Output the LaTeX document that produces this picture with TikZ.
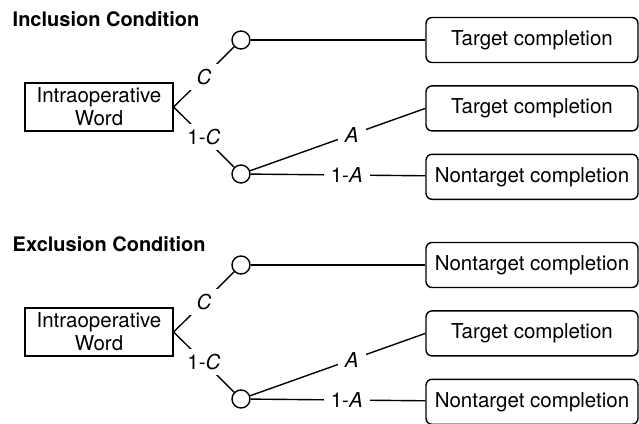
\documentclass[tikz,border=0pt]{standalone}
\usepackage{fontspec}
\setmainfont{TeX Gyre Heros}
\usetikzlibrary{positioning}

\tikzset{
  stim/.style={rectangle, draw=black, minimum width=148pt, minimum height=48pt, align=center, inner sep=0pt},
  outcome/.style={rectangle, rounded corners=6pt, draw=black, minimum width=212pt, minimum height=45pt, inner sep=0pt},
  chance/.style={circle, draw=black, minimum size=18pt, inner sep=0pt},
  prob/.style={fill=white, inner xsep=7pt, inner ysep=5pt},
  heading/.style={font=\fontsize{20}{23}\selectfont\bfseries, anchor=base west, inner sep=0pt},
}

\begin{document}
\begin{tikzpicture}[x=1pt, y=-1pt, line width=1.4pt, font=\fontsize{20.5}{23}\selectfont]
    \useasboundingbox (0,0) rectangle (639,423);

    % inclusion condition
    \node[heading] (inctitle) at (12,26) {Inclusion Condition};
    \node[stim] (incword) at (99,107) {Intraoperative\\Word};
    \node[chance] (inchi) at (241,40) {};
    \node[chance, on grid, below=134pt of inchi] (inclo) {};
    \node[outcome] (inct1) at (532,40) {Target completion};
    \node[outcome, below=22pt of inct1] (inct2) {Target completion};
    \node[outcome, below=22pt of inct2] (incn3) {Nontarget completion};

    \draw (incword.east) -- node[prob] {\textit{C}} (inchi);
    \draw (incword.east) -- node[prob] {1-\textit{C}} (inclo);
    \draw (inchi) -- (inct1);
    \draw (inclo) -- node[prob, pos=0.58] {\textit{A}} (inct2.west);
    \draw (inclo) -- node[prob, pos=0.55] {1-\textit{A}} (incn3);

    % exclusion condition
    \node[heading] (exctitle) at (12,251) {Exclusion Condition};
    \node[stim] (excword) at (99,332) {Intraoperative\\Word};
    \node[chance] (exchi) at (241,265) {};
    \node[chance, on grid, below=134pt of exchi] (exclo) {};
    \node[outcome] (excn1) at (532,265) {Nontarget completion};
    \node[outcome, below=22pt of excn1] (exct2) {Target completion};
    \node[outcome, below=22pt of exct2] (excn3) {Nontarget completion};

    \draw (excword.east) -- node[prob] {\textit{C}} (exchi);
    \draw (excword.east) -- node[prob] {1-\textit{C}} (exclo);
    \draw (exchi) -- (excn1);
    \draw (exclo) -- node[prob, pos=0.58] {\textit{A}} (exct2.west);
    \draw (exclo) -- node[prob, pos=0.55] {1-\textit{A}} (excn3);
\end{tikzpicture}
\end{document}
